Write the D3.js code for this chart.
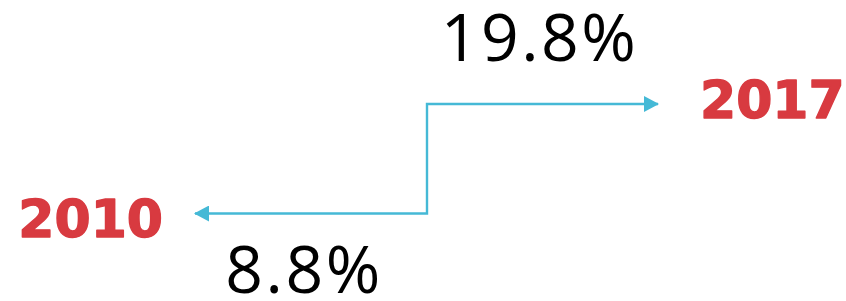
<!DOCTYPE html>
<html>
<head>
<meta charset="utf-8">
<script src="https://cdn.jsdelivr.net/npm/d3@7"></script>
<style>
  html, body { margin: 0; padding: 0; background: #fff; }
  svg { display: block; }
</style>
</head>
<body>
<svg id="chart" width="846" height="301"></svg>
<script>
const years = ["2010", "2017"];
const values = [8.8, 19.8];
const valueLabels = ["8.8%", "19.8%"];

const svg = d3.select("#chart");
const lineColor = "#45b9d6";
const red = "#d83a40";

const x = d3.scalePoint().domain(years).range([195, 658]);
const y = d3.scaleLinear().domain([values[0], values[1]]).range([213.5, 104]);
const midX = (x(years[0]) + x(years[1])) / 2 + 0.5;

const defs = svg.append("defs");
defs.append("marker")
  .attr("id", "arrow")
  .attr("viewBox", "0 -8 15 16")
  .attr("refX", 14)
  .attr("refY", 0)
  .attr("markerUnits", "userSpaceOnUse")
  .attr("markerWidth", 15)
  .attr("markerHeight", 16)
  .attr("orient", "auto-start-reverse")
  .append("path")
  .attr("d", "M0,-8L15,0L0,8Z")
  .attr("fill", lineColor);

const path = d3.path();
path.moveTo(x(years[0]), y(values[0]));
path.lineTo(midX, y(values[0]));
path.lineTo(midX, y(values[1]));
path.lineTo(x(years[1]), y(values[1]));

svg.append("path")
  .attr("d", path.toString())
  .attr("fill", "none")
  .attr("stroke", lineColor)
  .attr("stroke-width", 2.4)
  .attr("marker-start", "url(#arrow)")
  .attr("marker-end", "url(#arrow)");

// Year labels
svg.append("text")
  .attr("x", x(years[0]) - 32)
  .attr("y", y(values[0]) + 23)
  .attr("text-anchor", "end")
  .attr("font-family", "DejaVu Sans")
  .attr("font-weight", "bold")
  .attr("font-size", 52)
  .attr("fill", red)
  .attr("stroke", red)
  .attr("stroke-width", 1.4)
  .attr("stroke-linejoin", "round")
  .text(years[0]);

svg.append("text")
  .attr("x", x(years[1]) + 42)
  .attr("y", y(values[1]) + 14)
  .attr("text-anchor", "start")
  .attr("font-family", "DejaVu Sans")
  .attr("font-weight", "bold")
  .attr("font-size", 52)
  .attr("fill", red)
  .attr("stroke", red)
  .attr("stroke-width", 1.4)
  .attr("stroke-linejoin", "round")
  .text(years[1]);

// Value labels
svg.append("text")
  .attr("x", (x(years[0]) + midX) / 2 - 7)
  .attr("y", y(values[0]) + 79)
  .attr("text-anchor", "middle")
  .attr("font-family", "Open Sans")
  .attr("font-size", 66)
  .attr("letter-spacing", 2.5)
  .attr("fill", "#000")
  .text(valueLabels[0]);

svg.append("text")
  .attr("x", (midX + x(years[1])) / 2 - 3)
  .attr("y", y(values[1]) - 43)
  .attr("text-anchor", "middle")
  .attr("font-family", "Open Sans")
  .attr("font-size", 66)
  .attr("letter-spacing", 2.5)
  .attr("fill", "#000")
  .text(valueLabels[1]);
</script>
</body>
</html>
